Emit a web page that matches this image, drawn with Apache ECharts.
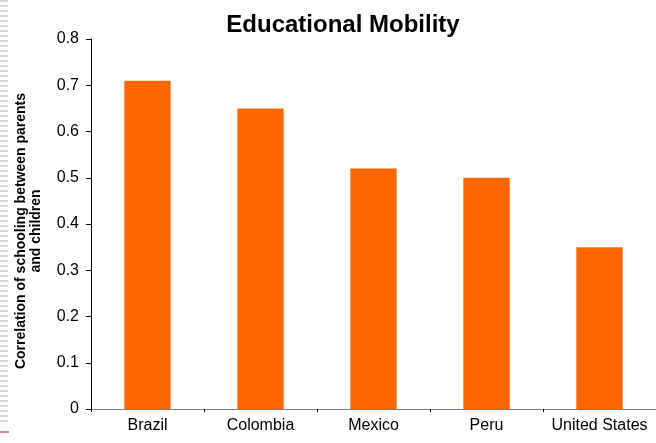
<!DOCTYPE html>
<html><head><meta charset="utf-8">
<script src="https://cdn.jsdelivr.net/npm/echarts@6/dist/echarts.min.js"></script>
<style>html,body{margin:0;padding:0;background:#fff}#c{width:656px;height:443px}</style>
</head><body><div id="c"></div>
<script>
var categories = ['Brazil', 'Colombia', 'Mexico', 'Peru', 'United States'];
var values = [0.71, 0.65, 0.52, 0.50, 0.35];
var yTicks = [0, 0.1, 0.2, 0.3, 0.4, 0.5, 0.6, 0.7, 0.8];

var chart = echarts.init(document.getElementById('c'));
chart.setOption({
  animation: false,
  title: {
    text: 'Educational Mobility', left: 338, top: 8, textAlign: 'center',
    textStyle: {fontFamily: 'Liberation Sans', fontWeight: 'bold', fontSize: 24, color: '#000'}
  },
  grid: {left: 91, top: 39, width: 571, height: 370, containLabel: false},
  xAxis: {
    type: 'category', data: categories,
    axisLine: {lineStyle: {color: '#808080', width: 1}},
    axisTick: {show: true, length: 3, lineStyle: {color: '#000'}},
    axisLabel: {color: '#000', fontFamily: 'Liberation Sans', fontSize: 16, margin: 9, interval: 0, hideOverlap: false}
  },
  yAxis: {
    type: 'value', min: yTicks[0], max: yTicks[yTicks.length - 1], interval: 0.1,
    name: 'Correlation of schooling between parents\nand children',
    nameLocation: 'middle', nameGap: 47, nameRotate: 90,
    nameTextStyle: {fontFamily: 'Liberation Sans', fontWeight: 'bold', fontSize: 14, color: '#000', lineHeight: 15, padding: [0, 14, 0, 0]},
    axisLine: {show: true, lineStyle: {color: '#000', width: 1}},
    axisTick: {show: true, length: 5, inside: false, lineStyle: {color: '#000'}},
    splitLine: {show: false},
    axisLabel: {color: '#000', fontFamily: 'Liberation Sans', fontSize: 16, margin: 12,
      formatter: function (v) { return v === 0 ? '0' : v.toFixed(1); }}
  },
  series: [{
    type: 'bar', data: values, barWidth: '41%',
    itemStyle: {color: '#FF6600'}
  }],
  graphic: [
    {type: 'line', shape: {x1: 4, y1: 0, x2: 4, y2: 425}, style: {stroke: '#d8d8d8', lineWidth: 8, lineDash: [2, 3]}},
    {type: 'line', shape: {x1: 0, y1: 432, x2: 9, y2: 432}, style: {stroke: '#cc0000', lineWidth: 1}}
  ]
});
</script></body></html>
